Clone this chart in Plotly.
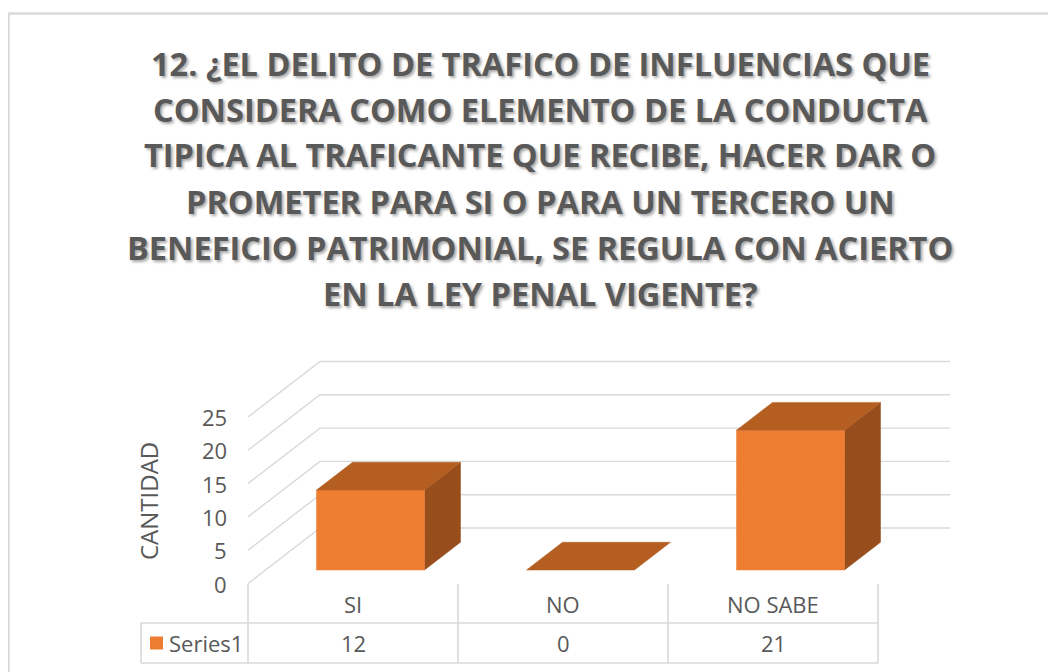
import plotly.graph_objects as go

# ---------------- data ----------------
categories = ["SI", "NO", "NO SABE"]
values = [12, 0, 21]
series_name = "Series1"
y_ticks = [0, 5, 10, 15, 20, 25]
y_title = "CANTIDAD"
title_lines = [
    "12. ¿EL DELITO DE TRAFICO DE INFLUENCIAS QUE",
    "CONSIDERA COMO ELEMENTO DE LA CONDUCTA",
    "TIPICA AL TRAFICANTE QUE RECIBE, HACER DAR O",
    "PROMETER PARA SI O PARA UN TERCERO UN",
    "BENEFICIO PATRIMONIAL, SE REGULA CON ACIERTO",
    "EN LA LEY PENAL VIGENTE?",
]

# ---------------- geometry / style ----------------
OFF = 8.0            # page body margin offset
W, H = 1048, 664
PX_LEFT = 248.0 - OFF   # pixel x of front-left edge of the plot floor
PX_CAT = 210.0          # pixels per category
PX_BASE = 583.5 - OFF   # pixel y of value 0 on front plane
PX_UNIT = 6.66          # pixels per value unit
DX = 72.0 / PX_CAT      # full depth offset in category units
DY = 55.5 / PX_UNIT     # full depth offset in value units
BAR_W = 108.0 / PX_CAT
BAR_F0 = 0.243          # bar front depth fraction
BAR_DEPTH = 0.5         # bar depth fraction

FRONT = "#ED7D31"
TOP = "#B45E22"
SIDE = "#984D1C"
GRID = "#D9D9D9"
TXT = "#595959"
FONT = "Open Sans"


def px_x(p):
    return (p - OFF - PX_LEFT) / PX_CAT


def px_y(p):
    return (PX_BASE - (p - OFF)) / PX_UNIT


x_range = [px_x(OFF), px_x(OFF + W)]
y_range = [px_y(OFF + H), px_y(OFF)]

fig = go.Figure()

# gridlines: back wall + side wall
gx, gy = [], []
n = len(categories)
for t in y_ticks:
    gx += [0, DX, n + DX, None]
    gy += [t, t + DY, t + DY, None]
fig.add_trace(go.Scatter(x=gx, y=gy, mode="lines", line=dict(color=GRID, width=1.4),
                         hoverinfo="skip", showlegend=False))

# 3D bars
fx, fy, tx, ty, sx, sy = [], [], [], [], [], []
a = BAR_F0 * DY
bx_off = BAR_F0 * DX
ddx, ddy = BAR_DEPTH * DX, BAR_DEPTH * DY
for i, v in enumerate(values):
    x0 = i + 0.5 - BAR_W / 2 + bx_off
    x1 = x0 + BAR_W
    if v > 0:
        fx += [x0, x1, x1, x0, x0, None]
        fy += [a, a, v + a, v + a, a, None]
        sx += [x1, x1 + ddx, x1 + ddx, x1, x1, None]
        sy += [a, a + ddy, v + a + ddy, v + a, a, None]
    tx += [x0, x1, x1 + ddx, x0 + ddx, x0, None]
    ty += [v + a, v + a, v + a + ddy, v + a + ddy, v + a, None]

fig.add_trace(go.Scatter(x=sx, y=sy, mode="lines", fill="toself", fillcolor=SIDE,
                         line=dict(color=SIDE, width=0.5), hoverinfo="skip", showlegend=False))
fig.add_trace(go.Scatter(x=fx, y=fy, mode="lines", fill="toself", fillcolor=FRONT,
                         line=dict(color=FRONT, width=0.5), hoverinfo="skip", showlegend=False))
fig.add_trace(go.Scatter(x=tx, y=ty, mode="lines", fill="toself", fillcolor=TOP,
                         line=dict(color=TOP, width=0.5), hoverinfo="skip", showlegend=False))

# data table
row_top = px_y(584)
row_mid = px_y(623)
row_bot = px_y(663)
leg_left = px_x(141)
lx, ly = [], []
lx += [leg_left, n, None, leg_left, n, None, leg_left, leg_left, None]
ly += [row_mid, row_mid, None, row_bot, row_bot, None, row_mid, row_bot, None]
for i in range(n + 1):
    lx += [i, i, None]
    ly += [row_top, row_bot, None]
fig.add_trace(go.Scatter(x=lx, y=ly, mode="lines", line=dict(color=GRID, width=1.6),
                         hoverinfo="skip", showlegend=False))

# legend key square
fig.add_trace(go.Scatter(x=[px_x(156.5)], y=[(row_mid + row_bot) / 2], mode="markers",
                         marker=dict(symbol="square", size=13, color=FRONT, line=dict(width=0)),
                         hoverinfo="skip", showlegend=False))

anns = []
txt_font = dict(family=FONT, size=22, color=TXT)
for i, c in enumerate(categories):
    anns.append(dict(x=i + 0.5, y=(row_top + row_mid) / 2, text=c, showarrow=False,
                     xanchor="center", yanchor="middle", font=txt_font))
    anns.append(dict(x=i + 0.5, y=(row_mid + row_bot) / 2, text=str(values[i]), showarrow=False,
                     xanchor="center", yanchor="middle", font=txt_font))
anns.append(dict(x=px_x(167), y=(row_mid + row_bot) / 2, text=series_name, showarrow=False,
                 xanchor="left", yanchor="middle", font=txt_font))
for t in y_ticks:
    anns.append(dict(x=px_x(229), y=t, text=str(t), showarrow=False,
                     xanchor="right", yanchor="middle", font=txt_font))
anns.append(dict(x=px_x(148), y=px_y(501), text=y_title, showarrow=False, textangle=-90,
                 xanchor="center", yanchor="middle",
                 font=dict(family=FONT, size=24, color=TXT)))

title_font = dict(family=FONT, size=32.5, color=TXT, weight="bold",
                  shadow="2px 2px 3px rgba(0,0,0,0.35)")
for k, line in enumerate(title_lines):
    yc = 63 + 46 * k - OFF
    anns.append(dict(x=(540 - OFF) / W, y=1 - yc / H, xref="paper", yref="paper", text=line,
                     showarrow=False, xanchor="center", yanchor="middle", font=title_font))

fig.update_layout(
    width=W, height=H,
    margin=dict(l=0, r=0, t=0, b=0),
    paper_bgcolor="white", plot_bgcolor="white",
    xaxis=dict(range=x_range, visible=False, fixedrange=True),
    yaxis=dict(range=y_range, visible=False, fixedrange=True),
    annotations=anns,
    shapes=[dict(type="rect", xref="paper", yref="paper",
                 x0=0.5 / W, x1=1.02, y0=-0.05, y1=1 - 5.5 / H,
                 line=dict(color=GRID, width=2.5), fillcolor="rgba(0,0,0,0)", layer="below")],
    showlegend=False,
)

fig.write_html("out.html")
